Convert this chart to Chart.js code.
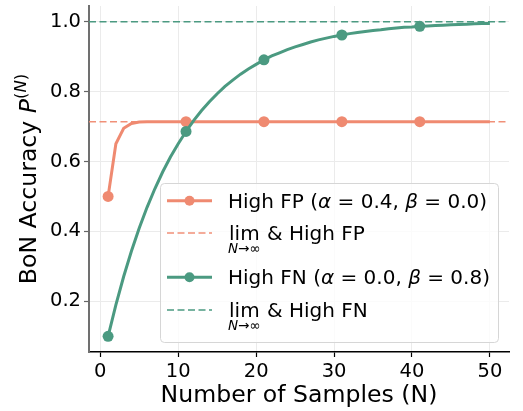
<!DOCTYPE html>
<html>
<head>
<meta charset="utf-8">
<script src="https://cdn.jsdelivr.net/npm/chart.js@4/dist/chart.umd.min.js"></script>
<style>
html,body{margin:0;padding:0;background:#fff;}
#wrap{width:523px;height:411px;}
</style>
</head>
<body>
<div id="wrap"><canvas id="c" width="523" height="411"></canvas></div>
<script>
// ---- data ----
const nSamples = [1,2,3,4,5,6,7,8,9,10,11,12,13,14,15,16,17,18,19,20,21,22,23,24,25,26,27,28,29,30,31,32,33,34,35,36,37,38,39,40,41,42,43,44,45,46,47,48,49,50];
const highFP = [0.500,0.651,0.695,0.709,0.713,0.714,0.714,0.714,0.714,0.714,0.714,0.714,0.714,0.714,0.714,0.714,0.714,0.714,0.714,0.714,0.714,0.714,0.714,0.714,0.714,0.714,0.714,0.714,0.714,0.714,0.714,0.714,0.714,0.714,0.714,0.714,0.714,0.714,0.714,0.714,0.714,0.714,0.714,0.714,0.714,0.714,0.714,0.714,0.714,0.714];
const highFN = [0.100,0.190,0.271,0.344,0.410,0.469,0.522,0.570,0.613,0.651,0.686,0.718,0.746,0.771,0.794,0.815,0.833,0.850,0.865,0.878,0.891,0.902,0.911,0.920,0.928,0.935,0.942,0.948,0.953,0.958,0.962,0.966,0.969,0.972,0.975,0.977,0.980,0.982,0.984,0.985,0.987,0.988,0.989,0.990,0.991,0.992,0.993,0.994,0.995,0.995];
const fpLimit = 0.714;
const fnLimit = 1.0;
const markerN = [1,11,21,31,41];
const xTicks = [0,10,20,30,40,50];
const yTicks = [0.2,0.4,0.6,0.8,1.0];
const xRange = [-1.45, 52.45];
const yRange = [0.055, 1.045];

const SALMON = '#ef8a71';
const TEAL = '#4b9a81';
const SALMON_DASH = 'rgba(239,138,113,0.95)';
const TEAL_DASH = 'rgba(75,154,129,1)';
const FONT = '"DejaVu Sans", sans-serif';

const pts = (arr) => nSamples.map((n,i)=>({x:n,y:arr[i]}));
const limPts = (v) => [{x:xRange[0],y:v},{x:xRange[1],y:v}];
const markerRadius = (ctx) => markerN.includes(nSamples[ctx.dataIndex]) ? 5.5 : 0;

function drawSeg(ctx, segs, x, y) {
  for (const s of segs) {
    ctx.font = s.font;
    ctx.fillText(s.t, x, y + (s.dy||0));
    x += ctx.measureText(s.t).width;
  }
  return x;
}

const LF = 20;
const nf = LF + 'px ' + FONT;
const itf = 'italic ' + LF + 'px ' + FONT;
const subF = 'italic 13.5px ' + FONT;
const subN = '13.5px ' + FONT;

const overlay = {
  id: 'overlay',
  afterDraw(chart) {
    const ctx = chart.ctx;
    const ca = chart.chartArea;
    ctx.save();
    // legend box
    const bx = 160.5, by = 183.5, bw = 338, bh = 159, r = 4;
    ctx.beginPath();
    ctx.moveTo(bx+r,by); ctx.lineTo(bx+bw-r,by); ctx.quadraticCurveTo(bx+bw,by,bx+bw,by+r);
    ctx.lineTo(bx+bw,by+bh-r); ctx.quadraticCurveTo(bx+bw,by+bh,bx+bw-r,by+bh);
    ctx.lineTo(bx+r,by+bh); ctx.quadraticCurveTo(bx,by+bh,bx,by+bh-r);
    ctx.lineTo(bx,by+r); ctx.quadraticCurveTo(bx,by,bx+r,by);
    ctx.closePath();
    ctx.fillStyle = 'rgba(255,255,255,0.8)';
    ctx.fill();
    ctx.strokeStyle = '#d6d6d6';
    ctx.lineWidth = 1;
    ctx.stroke();

    const hx0 = 167, hx1 = 212, tx = 228;
    function solidHandle(y, col) {
      ctx.setLineDash([]);
      ctx.strokeStyle = col; ctx.lineWidth = 3;
      ctx.beginPath(); ctx.moveTo(hx0,y); ctx.lineTo(hx1,y); ctx.stroke();
      ctx.fillStyle = col;
      ctx.beginPath(); ctx.arc((hx0+hx1)/2,y,5,0,Math.PI*2); ctx.fill();
    }
    function dashHandle(y, col) {
      ctx.setLineDash([7,3.5]);
      ctx.strokeStyle = col; ctx.lineWidth = 1.5;
      ctx.beginPath(); ctx.moveTo(hx0,y); ctx.lineTo(hx1,y); ctx.stroke();
      ctx.setLineDash([]);
    }
    ctx.textBaseline = 'alphabetic';
    ctx.textAlign = 'left';
    function mathLabel(y, name, a, b) {
      ctx.fillStyle = '#000';
      drawSeg(ctx, [
        {t:'High ' + name + ' (', font:nf},
        {t:'\u03b1', font:itf},
        {t:' = ' + a + ', ', font:nf},
        {t:'\u03b2', font:itf},
        {t:' = ' + b + ')', font:nf}
      ], tx, y);
    }
    function limLabel(y, name) {
      ctx.fillStyle = '#000';
      ctx.font = nf;
      const limW = ctx.measureText('lim').width;
      ctx.font = subF;
      const nW = ctx.measureText('N').width;
      ctx.font = subN;
      const restW = ctx.measureText('\u2192\u221e').width;
      const subW = nW + restW;
      const w = Math.max(limW, subW);
      ctx.font = nf;
      ctx.fillText('lim', tx + (w-limW)/2, y);
      const sx = tx + (w-subW)/2;
      ctx.font = subF; ctx.fillText('N', sx, y+13);
      ctx.font = subN; ctx.fillText('\u2192\u221e', sx+nW, y+13);
      ctx.font = nf;
      ctx.fillText(' & High ' + name, tx + w, y);
    }
    solidHandle(200.7, SALMON);
    mathLabel(208, 'FP', '0.4', '0.0');
    dashHandle(233, SALMON_DASH);
    limLabel(240, 'FP');
    solidHandle(277.3, TEAL);
    mathLabel(284, 'FN', '0.0', '0.8');
    dashHandle(310, TEAL_DASH);
    limLabel(317, 'FN');

    // x axis title
    ctx.fillStyle = '#000';
    ctx.font = '23.6px ' + FONT;
    ctx.textAlign = 'center';
    ctx.fillText('Number of Samples (N)', (ca.left+ca.right)/2, 401.5);

    // y axis title
    ctx.translate(36, (ca.top+ca.bottom)/2);
    ctx.rotate(-Math.PI/2);
    ctx.textAlign = 'left';
    const yf = '23.6px ' + FONT, yi = 'italic 23.6px ' + FONT;
    const ys = '16.5px ' + FONT, ysi = 'italic 16.5px ' + FONT;
    const parts = [
      {t:'BoN Accuracy ', font:yf},
      {t:'P', font:yi},
      {t:'(', font:ys, dy:-10},
      {t:'N', font:ysi, dy:-10},
      {t:')', font:ys, dy:-10}
    ];
    let tw = 0;
    for (const p of parts) { ctx.font = p.font; tw += ctx.measureText(p.t).width; }
    drawSeg(ctx, parts, -tw/2, 0);
    ctx.restore();
  }
};

new Chart(document.getElementById('c'), {
  type: 'line',
  data: {
    datasets: [
      {label:'High FN', data: pts(highFN), borderColor: TEAL, backgroundColor: TEAL, borderWidth: 3,
       pointRadius: markerRadius, pointHoverRadius: 0, pointBorderWidth: 0, tension: 0, order: 1},
      {label:'FN limit', data: limPts(fnLimit), borderColor: TEAL_DASH, borderWidth: 1.5, borderDash:[7,3.5],
       pointRadius: 0, order: 0},
      {label:'High FP', data: pts(highFP), borderColor: SALMON, backgroundColor: SALMON, borderWidth: 3,
       pointRadius: markerRadius, pointHoverRadius: 0, pointBorderWidth: 0, tension: 0, order: 3},
      {label:'FP limit', data: limPts(fpLimit), borderColor: SALMON_DASH, borderWidth: 1.5, borderDash:[7,3.5],
       pointRadius: 0, order: 2}
    ]
  },
  options: {
    responsive: false,
    devicePixelRatio: 1,
    animation: false,
    events: [],
    layout: { padding: { top: 6, right: 14, left: 0, bottom: 0 } },
    plugins: { legend: { display: false }, tooltip: { enabled: false } },
    scales: {
      x: {
        type: 'linear', min: xRange[0], max: xRange[1],
        afterBuildTicks: (s) => { s.ticks = xTicks.map(v=>({value:v})); },
        afterFit: (s) => { s.height = 59; s.paddingLeft = 0; s.paddingRight = 0; },
        ticks: { callback: (v)=>String(v), color:'#000', font:{family:FONT, size:19.5}, padding: 3, maxRotation:0 },
        grid: { color:'#ebebeb', lineWidth:1, drawTicks:true, tickLength:5, tickColor:'#000', tickWidth:1.2 },
        border: { display:true, color:'#000', width:1.5 }
      },
      y: {
        type: 'linear', min: yRange[0], max: yRange[1],
        afterBuildTicks: (s) => { s.ticks = yTicks.map(v=>({value:v})); },
        afterFit: (s) => { s.width = 89; s.paddingTop = 0; s.paddingBottom = 0; },
        ticks: { callback: (v)=>v.toFixed(1), color:'#000', font:{family:FONT, size:19.5}, padding: 3 },
        grid: { color:'#ebebeb', lineWidth:1, drawTicks:true, tickLength:5, tickColor:'#666', tickWidth:1.2 },
        border: { display:true, color:'#707070', width:2 }
      }
    }
  },
  plugins: [overlay]
});
</script>
</body>
</html>
